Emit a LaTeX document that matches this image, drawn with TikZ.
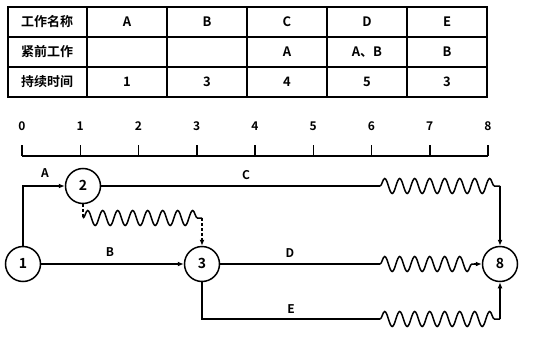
\documentclass[tikz,border=0pt]{standalone}
\usepackage{fontspec}
\setmainfont{Noto Sans CJK SC Bold}
\usepackage{tikz}
\usetikzlibrary{arrows.meta, decorations.pathmorphing, positioning, calc}

\begin{document}
\begin{tikzpicture}[
    x=1pt, y=-1pt,
    every node/.style={font=\fontsize{13}{13}\selectfont, inner sep=0pt, text height=9.5pt, text depth=0pt},
    work/.style={line width=1.5pt},
    arr/.style={-{Latex[length=6pt, width=5pt]}},
    wave/.style={decorate, decoration={snake, segment length=15pt, amplitude=7.5pt}},
    dummy/.style={dash pattern=on 3pt off 2pt},
    event/.style={circle, draw, line width=1.5pt, minimum size=35pt, font=\fontsize{14}{14}\selectfont},
    tag/.style={font=\fontsize{12}{12}\selectfont},
]
\useasboundingbox (0,0) rectangle (535,345);

% =========================================================
% 1. Table of works
% =========================================================
\draw[line width=1.7pt] (8,7) rectangle (487,97);
\foreach \x in {87,167,247,327,407}
    \draw[line width=1.3pt] (\x,7) -- (\x,97);
\draw[line width=1.3pt] (8,37) -- (487,37);
\draw[line width=1.3pt] (8,67) -- (487,67);

% Row titles
\node (rowname) at (47,22) {工作名称};
\node (rowpre)  at (47,52) {紧前工作};
\node (rowdur)  at (47,82) {持续时间};

% Cells: column centre / name / predecessor / duration
\foreach \x/\a/\b/\c in {127/A//1, 207/B//3, 287/C/A/4, 367/D/A、B/5, 447/E/B/3} {
    \node (name\a) at (\x,22) {\a};
    \node (pre\a)  at (\x,52) {\b};
    \node (dur\a)  at (\x,82) {\c};
}

% =========================================================
% 2. Time scale
% =========================================================
\draw[work] (22,156) -- (488,156);
\foreach \t in {0,...,8} {
    \draw[work] ({22+58.25*\t},145) -- ({22+58.25*\t},156);
    \node[font=\fontsize{12}{12}\selectfont, text height=8.5pt] (time\t) at ({22+58.25*\t},126) {\t};
}

% =========================================================
% 3. Time-scaled network
% =========================================================
\node[event] (n1) at (23,264)  {1};
\node[event] (n2) at (83,186)  {2};
\node[event] (n3) at (202,264) {3};
\node[event] (n8) at (500,264) {8};

% Bends of the waves
\coordinate (c1) at (380,186);
\coordinate (c2) at (500,186);
\coordinate (d1) at (380,264);
\coordinate (d2) at (474,264);
\coordinate (e1) at (380,319);
\coordinate (e2) at (500,319);
\coordinate (v1) at (83,218);
\coordinate (v2) at (202,218);

% A: 1 -> 2
\draw[work, arr] (n1.north) |- (n2.west);
\node[tag] (labA) at (45,173) {A};

% B: 1 -> 3
\draw[work, arr] (n1.east) -- (n3.west);
\node[tag] (labB) at (110,252) {B};

% C: 2 -> 8 with free float
\draw[work] (n2.east) -- (c1);
\draw[work, wave] (c1) -- (c2);
\draw[work, arr] (c2) -- (n8.north);
\node[tag] (labC) at (246,175) {C};

% Dummy work: 2 -> 3
\draw[work, dummy] (n2.south) -- (v1);
\draw[work, wave] (v1) -- (v2);
\draw[work, dummy, arr] (v2) -- (n3.north);

% D: 3 -> 8
\draw[work] (n3.east) -- (d1);
\draw[work, wave] (d1) -- (d2);
\draw[work, arr] (d2) -- (n8.west);
\node[tag] (labD) at (290,253) {D};

% E: 3 -> 8
\draw[work] (n3.south) |- (e1);
\draw[work, wave] (e1) -- (e2);
\draw[work, arr] (e2) -- (n8.south);
\node[tag] (labE) at (291,309) {E};

\end{tikzpicture}
\end{document}
